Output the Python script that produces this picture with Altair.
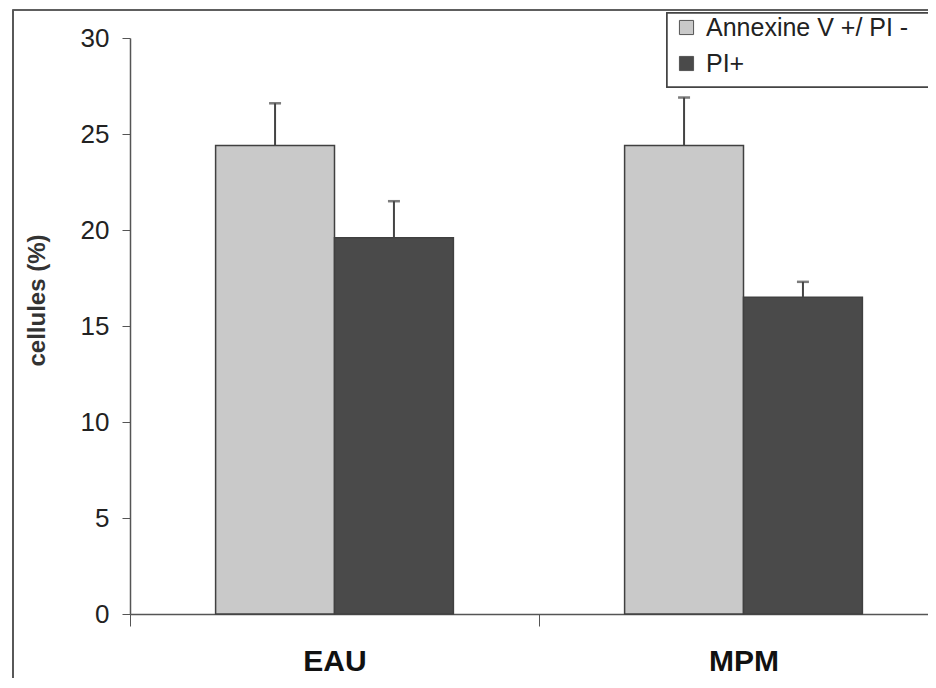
import altair as alt
import pandas as pd

groups = ["EAU", "EAU", "MPM", "MPM"]
series = ["Annexine V +/ PI -", "PI+", "Annexine V +/ PI -", "PI+"]
values = [24.4, 19.6, 24.4, 16.5]
errors = [2.2, 1.9, 2.5, 0.8]

df = pd.DataFrame({"group": groups, "series": series, "value": values, "err": errors})
df["upper"] = df["value"] + df["err"]

series_order = ["Annexine V +/ PI -", "PI+"]
FONT = "Liberation Sans"

x = alt.X("group:N", scale=alt.Scale(range=[0, 818], paddingInner=0, paddingOuter=0),
          axis=alt.Axis(title=None, labelAngle=0, labelFont=FONT,
                        labelFontSize=30, labelFontWeight="bold", labelColor="#111",
                        tickBand="extent", tickSize=12, tickColor="#555",
                        domainColor="#555", domainWidth=1.5, labelPadding=20))
xo = alt.XOffset("series:N", sort=series_order,
                 scale=alt.Scale(paddingInner=0, paddingOuter=0.72))
y = alt.Y("value:Q", scale=alt.Scale(domain=[0, 30]),
          axis=alt.Axis(values=[0, 5, 10, 15, 20, 25, 30], grid=False, tickSize=8,
                        tickColor="#555", domainColor="#555", domainWidth=1.5,
                        labelFont=FONT, labelFontSize=26, labelColor="#222",
                        labelPadding=13, title="cellules (%)", titleFont=FONT,
                        titleFontSize=24, titleFontWeight="bold", titleColor="#333",
                        titleAngle=270, titleX=-93, titleY=262,
                        titleAlign="center", titleBaseline="middle"))

color = alt.Color("series:N", sort=series_order,
                  scale=alt.Scale(domain=series_order, range=["#c9c9c9", "#4a4a4a"]),
                  legend=alt.Legend(title=None, orient="none", legendX=544, legendY=-23,
                                    padding=0, symbolType="square", symbolSize=200,
                                    symbolStrokeColor="#555", symbolStrokeWidth=1,
                                    labelFont=FONT, labelFontSize=25, labelColor="#222",
                                    rowPadding=10, labelOffset=7, labelLimit=400))

bars = alt.Chart(df).mark_bar(stroke="#404040", strokeWidth=1.5).encode(
    x=x, xOffset=xo, y=y, color=color)

rules = alt.Chart(df).mark_rule(color="#444", strokeWidth=2).encode(
    x=alt.X("group:N"), xOffset=alt.XOffset("series:N", sort=series_order),
    y="upper:Q", y2="value:Q")

caps = alt.Chart(df).mark_tick(color="#444", thickness=2.5, size=12).encode(
    x=alt.X("group:N"), xOffset=alt.XOffset("series:N", sort=series_order),
    y="upper:Q")

frame = alt.Chart(df).mark_rect(fill=None, stroke="#555", strokeWidth=1.2).encode(
    x=alt.value(-117), x2=alt.value(830), y=alt.value(-28), y2=alt.value(700))

legend_box = alt.Chart(df).mark_rect(fill="white", stroke="#444", strokeWidth=1.5).encode(
    x=alt.value(537), x2=alt.value(830), y=alt.value(-25), y2=alt.value(49))

chart = alt.layer(frame, legend_box, bars, rules, caps).properties(
    width=798, height=576,
    padding={"left": 122, "top": 30, "right": 0, "bottom": 64},
    autosize=alt.AutoSizeParams(type="none"),
).configure(background="white", view=alt.ViewConfig(stroke=None))

chart.save("out.html", embed_options={"renderer": "svg", "actions": False})
